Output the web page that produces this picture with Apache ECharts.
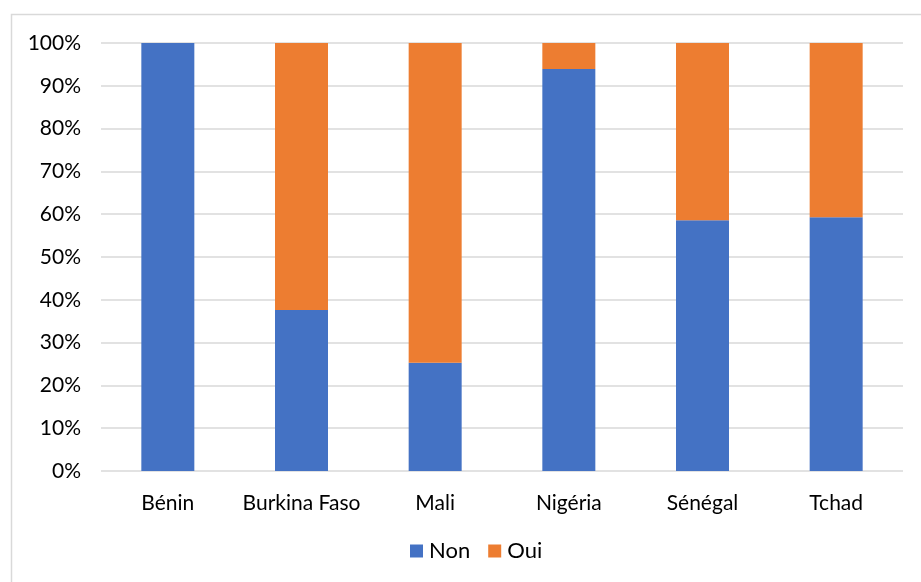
<!DOCTYPE html>
<html>
<head>
<meta charset="utf-8">
<script src="https://cdn.jsdelivr.net/npm/echarts@6/dist/echarts.min.js"></script>
<style>
  body { margin: 0; background: #fff; }
  #chart { width: 921px; height: 582px; }
</style>
</head>
<body>
<div id="chart"></div>
<script>
const countries = ['Bénin', 'Burkina Faso', 'Mali', 'Nigéria', 'Sénégal', 'Tchad'];
const nonValues = [100, 37.6, 25.3, 93.9, 58.6, 59.3];
const ouiValues = [0, 62.4, 74.7, 6.1, 41.4, 40.7];

const chart = echarts.init(document.getElementById('chart'));
const font = 'Lato, "Open Sans", sans-serif';

const option = {
  animation: false,
  textStyle: { fontFamily: font },
  graphic: [
    {
      type: 'rect',
      shape: { x: 11.5, y: 14.5, width: 930, height: 600 },
      style: { fill: 'none', stroke: '#d9d9d9', lineWidth: 1.5 },
      silent: true
    }
  ],
  grid: { left: 101, right: 18, top: 43, bottom: 111 },
  legend: {
    data: ['Non', 'Oui'],
    bottom: 15,
    left: 405,
    itemWidth: 13,
    itemHeight: 13,
    itemGap: 18,
    icon: 'rect',
    textStyle: { fontSize: 22, color: '#000', fontFamily: font, padding: [0, 0, 0, 1] }
  },
  xAxis: {
    type: 'category',
    data: countries,
    axisLine: { show: false },
    axisTick: { show: false },
    axisLabel: { fontSize: 21, color: '#000', margin: 22, interval: 0 }
  },
  yAxis: {
    type: 'value',
    min: 0,
    max: 100,
    interval: 10,
    axisLine: { show: false },
    axisTick: { show: false },
    axisLabel: { formatter: '{value}%', fontSize: 21, color: '#000', margin: 20 },
    splitLine: { lineStyle: { color: '#d9d9d9', width: 1.5 } }
  },
  series: [
    {
      name: 'Non',
      type: 'bar',
      stack: 'total',
      barWidth: 53,
      data: nonValues,
      itemStyle: { color: '#4472c4' }
    },
    {
      name: 'Oui',
      type: 'bar',
      stack: 'total',
      barWidth: 53,
      data: ouiValues,
      itemStyle: { color: '#ed7d31' }
    }
  ]
};
chart.setOption(option);
</script>
</body>
</html>
